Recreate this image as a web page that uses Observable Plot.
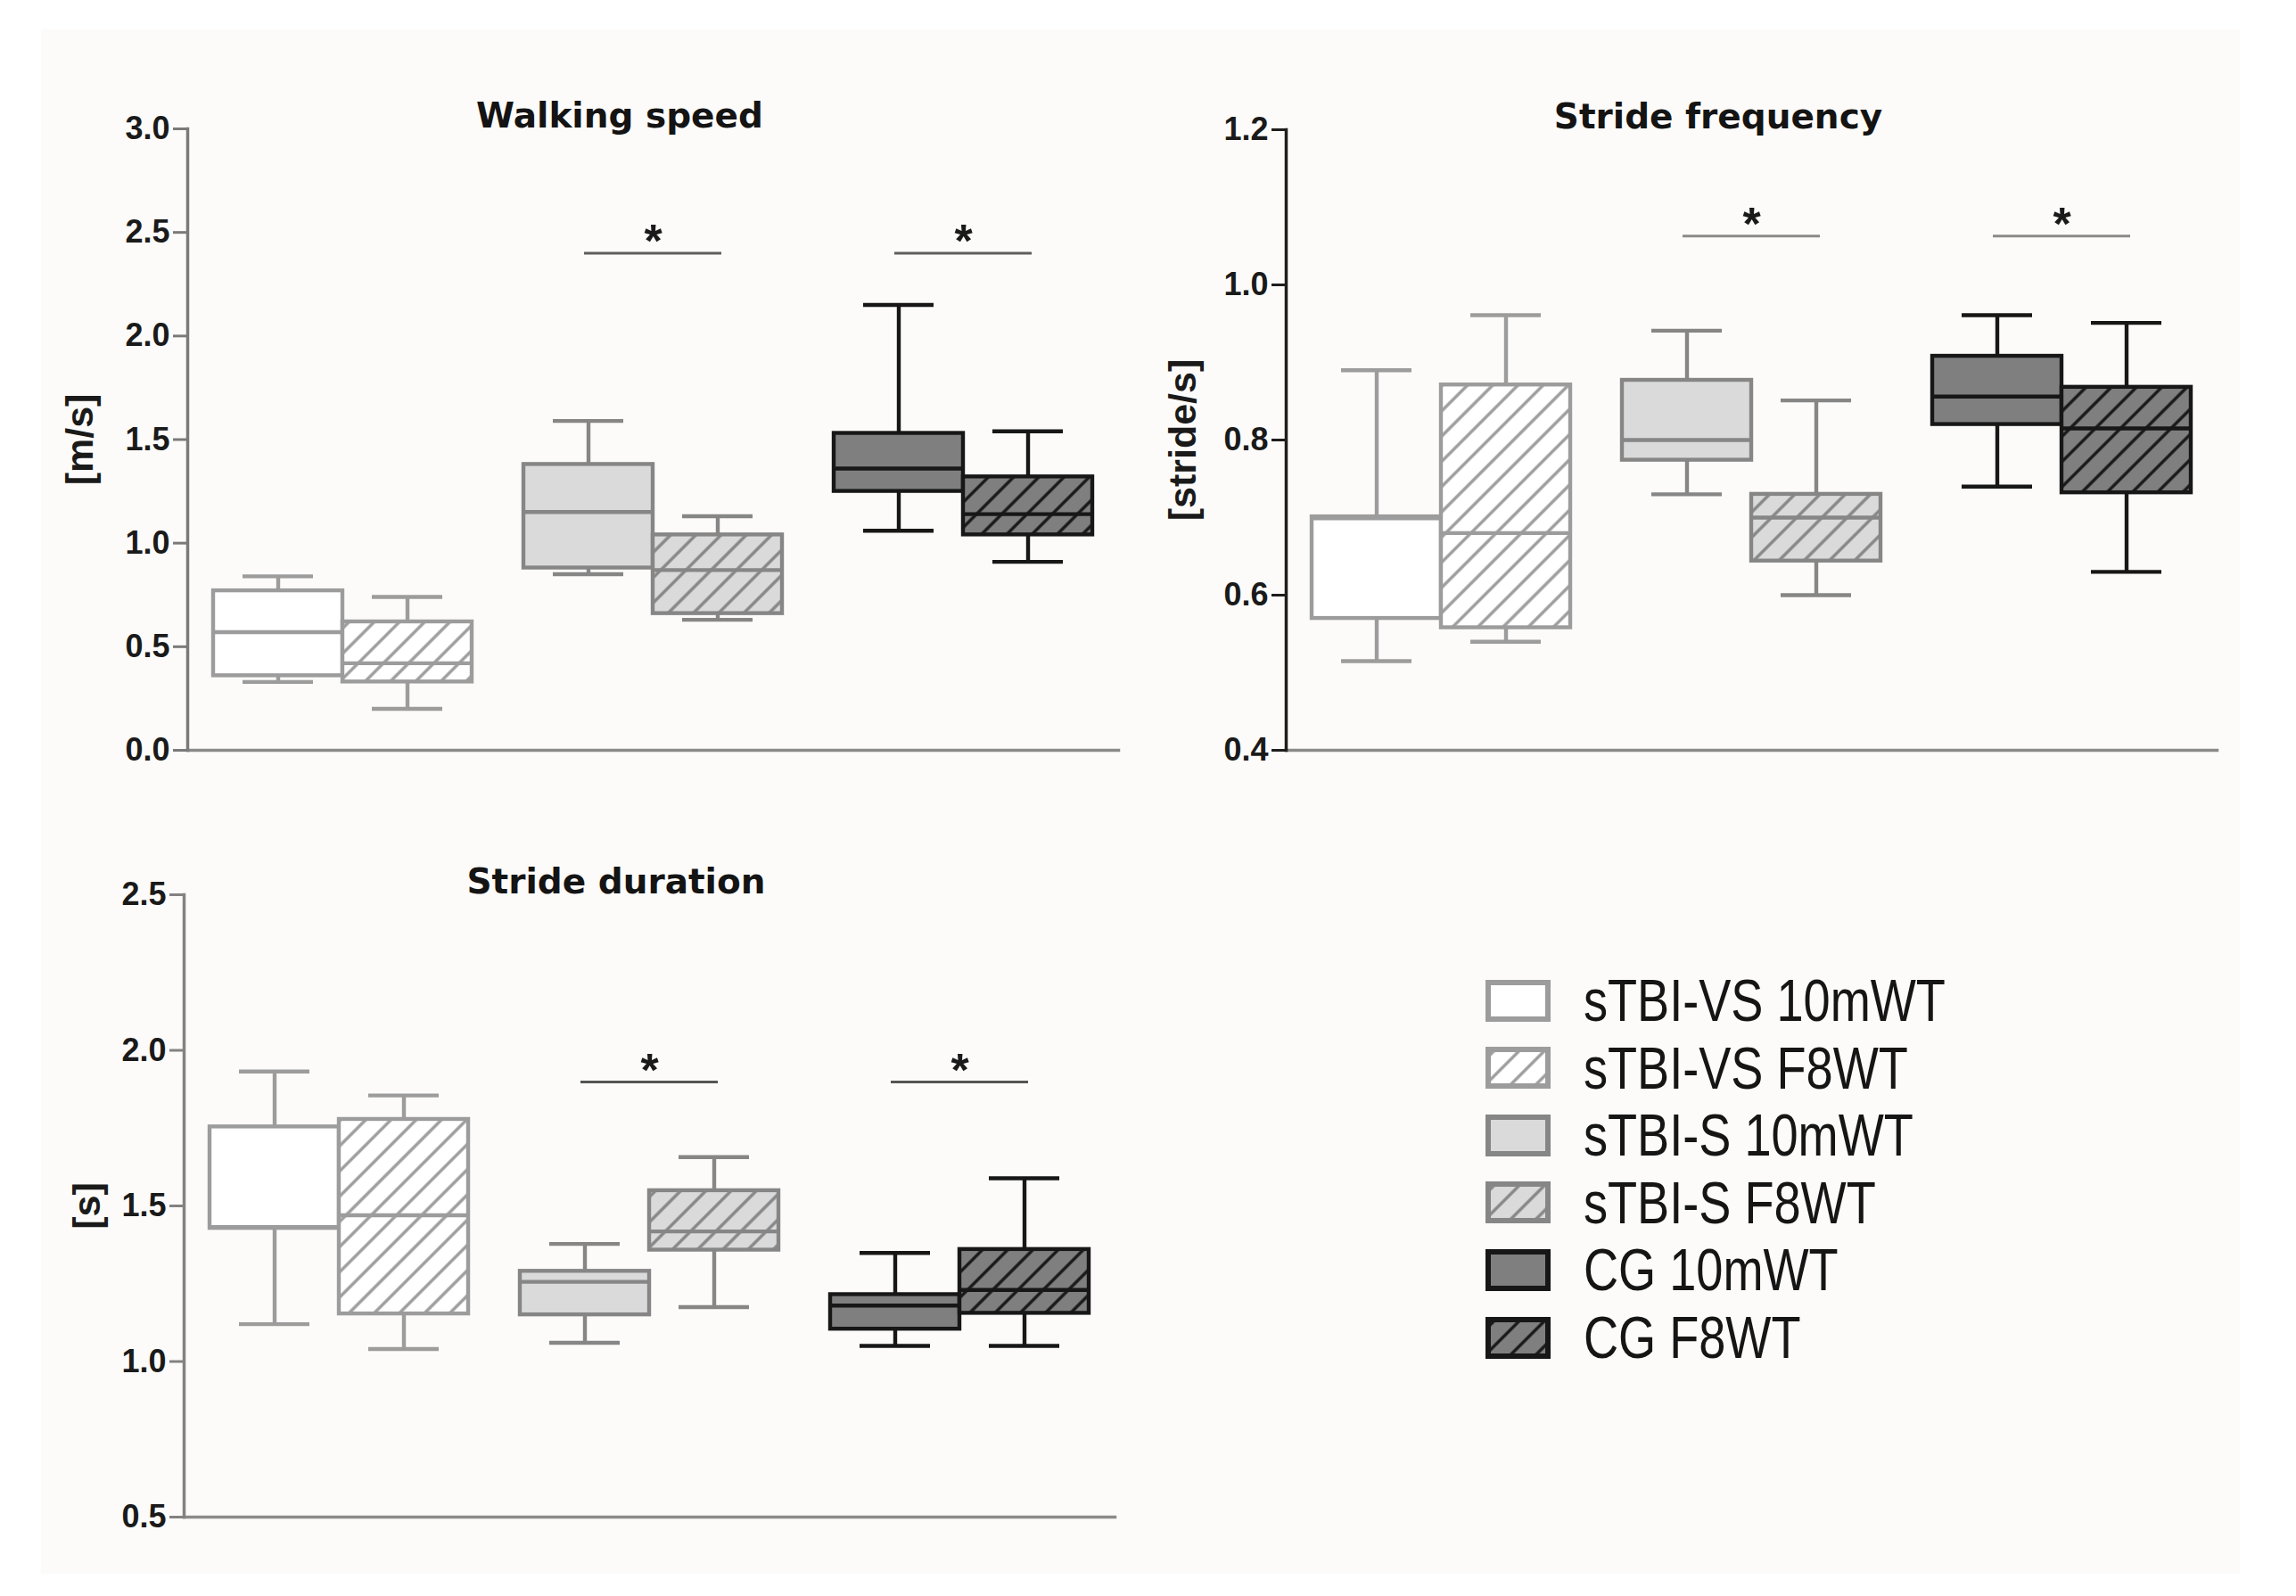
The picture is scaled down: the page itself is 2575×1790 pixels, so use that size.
<!DOCTYPE html>
<html>
<head>
<meta charset="utf-8">
<script src="https://cdn.jsdelivr.net/npm/d3@7"></script>
<script src="https://cdn.jsdelivr.net/npm/@observablehq/plot@0.6"></script>
<style>
  html, body { margin: 0; padding: 0; background: #ffffff; }
  body { width: 2575px; height: 1790px; position: relative; overflow: hidden; font-family: "Liberation Sans", Arial, sans-serif; }
  #paper { position: absolute; left: 46px; top: 33px; width: 2466px; height: 1732px; background: #fcfbf9; }
  .panel { position: absolute; }
  .title { position: absolute; font-family: "DejaVu Sans", sans-serif; font-weight: bold; font-size: 39px; line-height: 39px; color: #141414; white-space: nowrap; transform: translateX(-50%); }
  .lrow { position: absolute; height: 66px; display: flex; align-items: flex-start; }
  .lrow svg { margin-top: 9.5px; display: block; }
  .lrow span { display: inline-block; margin-left: 37px; font-family: "Liberation Sans Narrow", "Liberation Sans", Arial, sans-serif; font-size: 66px; line-height: 66px; color: #151515; white-space: nowrap; transform: scaleX(0.82); transform-origin: 0 50%; }
</style>
</head>
<body>
<div id="paper"></div>
<div id="root"></div>
<script>
// ---- categories ----
const groups = ["sTBI-VS", "sTBI-S", "CG"];
const tests = ["10mWT", "F8WT"];
const sigGroups = ["sTBI-S", "CG"];

// ---- Walking speed [m/s]  (order: VS 10mWT, VS F8WT, S 10mWT, S F8WT, CG 10mWT, CG F8WT) ----
const speedMin = [0.33, 0.20, 0.85, 0.63, 1.06, 0.91];
const speedQ1  = [0.36, 0.33, 0.88, 0.66, 1.25, 1.04];
const speedMed = [0.57, 0.42, 1.15, 0.87, 1.36, 1.14];
const speedQ3  = [0.77, 0.62, 1.38, 1.04, 1.53, 1.32];
const speedMax = [0.84, 0.74, 1.59, 1.13, 2.15, 1.54];
const speedSig = [2.40, 2.40];
const speedTicks = [0, 0.5, 1.0, 1.5, 2.0, 2.5, 3.0];

// ---- Stride frequency [stride/s] ----
const freqMin = [0.515, 0.540, 0.730, 0.600, 0.740, 0.630];
const freqQ1  = [0.570, 0.558, 0.774, 0.644, 0.820, 0.732];
const freqMed = [0.699, 0.680, 0.800, 0.700, 0.856, 0.815];
const freqQ3  = [0.701, 0.871, 0.877, 0.730, 0.908, 0.868];
const freqMax = [0.890, 0.961, 0.941, 0.851, 0.961, 0.951];
const freqSig = [1.063, 1.063];
const freqTicks = [0.4, 0.6, 0.8, 1.0, 1.2];

// ---- Stride duration [s] ----
const durMin = [1.120, 1.040, 1.060, 1.175, 1.050, 1.050];
const durQ1  = [1.428, 1.153, 1.150, 1.358, 1.104, 1.155];
const durMed = [1.432, 1.470, 1.256, 1.418, 1.180, 1.230];
const durQ3  = [1.754, 1.778, 1.290, 1.549, 1.215, 1.360];
const durMax = [1.932, 1.855, 1.378, 1.657, 1.349, 1.589];
const durSig = [1.898, 1.898];
const durTicks = [0.5, 1.0, 1.5, 2.0, 2.5];

// ---- styles ----
const strokeOf = {"sTBI-VS": "#9c9c9c", "sTBI-S": "#868686", "CG": "#171717"};
const fillOf   = {"sTBI-VS": "#ffffff", "sTBI-S": "#dadada", "CG": "#7f7f7f"};
const hatchId  = {"sTBI-VS": "hatch-vs", "sTBI-S": "hatch-s", "CG": "hatch-cg"};
const fillFor = d => d.test === "F8WT" ? `url(#${hatchId[d.group]})` : fillOf[d.group];

const combos = d3.cross(groups, tests); // 6 boxes in reading order

function makeRows(mins, q1s, meds, q3s, maxs) {
  return combos.map(([group, test], i) => ({group, test, min: mins[i], q1: q1s[i], med: meds[i], q3: q3s[i], max: maxs[i]}));
}

function defsMark() {
  const defs = d3.create("svg:defs");
  for (const g of groups) {
    const p = defs.append("pattern")
      .attr("id", hatchId[g])
      .attr("patternUnits", "userSpaceOnUse")
      .attr("width", 20).attr("height", 20)
      .attr("patternTransform", "rotate(45)");
    p.append("rect").attr("width", 20).attr("height", 20).attr("fill", fillOf[g]);
    p.append("line").attr("x1", 10).attr("x2", 10).attr("y1", -2).attr("y2", 22)
      .attr("stroke", strokeOf[g]).attr("stroke-width", 3.4);
  }
  return defs.node();
}

const root = document.getElementById("root");

function panel(cfg) {
  const rows = makeRows(...cfg.stats);
  const sig = sigGroups.map((group, i) => ({group, y: cfg.sig[i]}));
  const boxStyle = {fx: "group", x: "test", stroke: d => strokeOf[d.group], strokeWidth: 4.4};
  const chart = Plot.plot({
    width: cfg.width, height: cfg.height,
    marginLeft: cfg.mL, marginTop: cfg.mT, marginRight: cfg.mR, marginBottom: cfg.mB,
    style: {background: "transparent", overflow: "visible", fontFamily: "'Liberation Sans', Arial, sans-serif", color: "#1a1a1a"},
    fx: {domain: groups, padding: 0, axis: null},
    x: {domain: tests, paddingInner: 0, paddingOuter: 0.2, axis: null},
    y: {domain: cfg.domain},
    color: {type: "identity"},
    marks: [
      defsMark,
      Plot.frame({anchor: "bottom", facet: "super", stroke: cfg.xAxisColor, strokeWidth: 3.5}),
      Plot.frame({anchor: "left", facetAnchor: "left", stroke: cfg.yAxisColor, strokeWidth: 3.5}),
      Plot.ruleX(rows, {...boxStyle, y1: "min", y2: "max"}),
      Plot.tickY(rows, {...boxStyle, y: "min", insetLeft: 33, insetRight: 33}),
      Plot.tickY(rows, {...boxStyle, y: "max", insetLeft: 33, insetRight: 33}),
      Plot.barY(rows, {...boxStyle, y1: "q1", y2: "q3", fill: fillFor}),
      Plot.tickY(rows, {...boxStyle, y: "med"}),
      Plot.ruleY(sig, {fx: "group", y: "y", stroke: cfg.sigColor, strokeWidth: 3, insetLeft: 97, insetRight: 97}),
      Plot.text(sig, {fx: "group", y: "y", text: () => "*", fontSize: 52, fontWeight: "bold", lineAnchor: "bottom", dy: 4, fill: "#1a1a1a"}),
      Plot.axisY({ticks: cfg.ticks, tickFormat: d3.format(".1f"), tickSize: 16, tickPadding: 4, fontSize: 36, fontWeight: "bold",
        stroke: cfg.yAxisColor, strokeWidth: 3, fill: "#1a1a1a", label: null}),
      Plot.text([cfg.label], {frameAnchor: "left", facetAnchor: "left", textAnchor: "middle", rotate: -90, dx: cfg.labelDx,
        fontSize: 43, fontWeight: "bold", fill: "#1a1a1a"})
    ]
  });
  const div = document.createElement("div");
  div.className = "panel";
  div.style.left = cfg.left + "px";
  div.style.top = cfg.top + "px";
  div.style.width = cfg.width + "px";
  div.appendChild(chart);
  root.appendChild(div);

  const t = document.createElement("div");
  t.className = "title";
  t.textContent = cfg.title;
  t.style.left = (cfg.left + cfg.mL + (cfg.width - cfg.mL - cfg.mR) / 2 - 37) + "px";
  t.style.top = (cfg.top + cfg.mT - 1 - 33) + "px";
  root.appendChild(t);
}

panel({title: "Walking speed", label: "[m/s]", labelDx: -120,
  left: 0, top: 0, width: 1290, height: 900, mL: 210, mT: 144, mR: 36, mB: 59,
  domain: [0, 3], ticks: speedTicks, sig: speedSig,
  stats: [speedMin, speedQ1, speedMed, speedQ3, speedMax],
  yAxisColor: "#7a7a7a", xAxisColor: "#8a8a8a", sigColor: "#5e5e5e"});

panel({title: "Stride frequency", label: "[stride/s]", labelDx: -115,
  left: 1300, top: 0, width: 1229, height: 900, mL: 142, mT: 145, mR: 43, mB: 59,
  domain: [0.4, 1.2], ticks: freqTicks, sig: freqSig,
  stats: [freqMin, freqQ1, freqMed, freqQ3, freqMax],
  yAxisColor: "#1e1e1e", xAxisColor: "#8a8a8a", sigColor: "#8a8a8a"});

panel({title: "Stride duration", label: "[s]", labelDx: -108,
  left: 0, top: 860, width: 1290, height: 900, mL: 206, mT: 143, mR: 40, mB: 59,
  domain: [0.5, 2.5], ticks: durTicks, sig: durSig,
  stats: [durMin, durQ1, durMed, durQ3, durMax],
  yAxisColor: "#828282", xAxisColor: "#8a8a8a", sigColor: "#555555"});

// ---- legend ----
combos.forEach(([group, test], i) => {
  const row = document.createElement("div");
  row.className = "lrow";
  row.style.left = "1666px";
  row.style.top = (1122 + i * 75.6 - 33) + "px";
  const sw = d3.create("svg").attr("width", 73).attr("height", 47);
  sw.append("rect").attr("x", 3).attr("y", 3).attr("width", 67).attr("height", 41)
    .attr("fill", test === "F8WT" ? `url(#${hatchId[group]})` : fillOf[group])
    .attr("stroke", strokeOf[group]).attr("stroke-width", 6);
  row.appendChild(sw.node());
  const span = document.createElement("span");
  span.textContent = `${group} ${test}`;
  row.appendChild(span);
  root.appendChild(row);
});
</script>
</body>
</html>
